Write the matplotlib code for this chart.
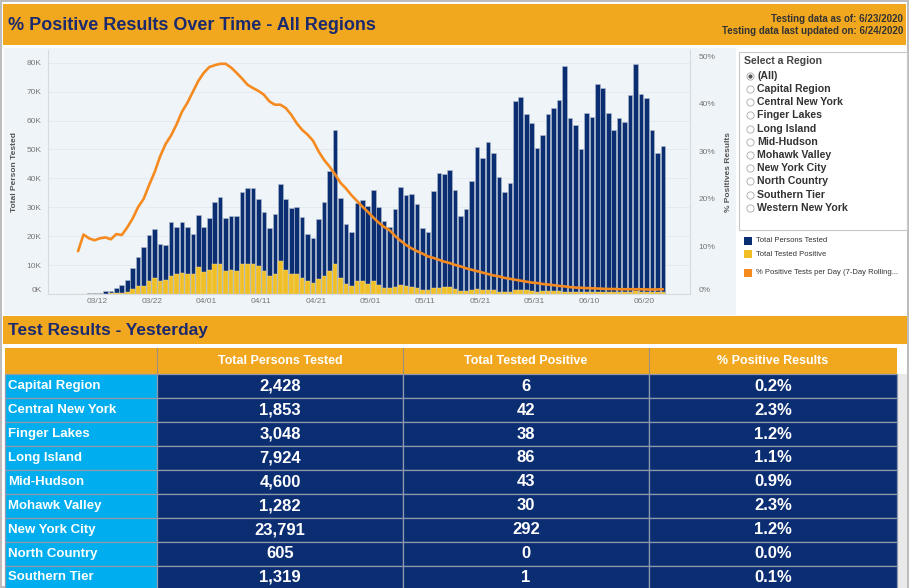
import pandas as pd, numpy as np
import matplotlib as mpl, matplotlib.pyplot as plt
from matplotlib.patches import Rectangle
from matplotlib.lines import Line2D
from matplotlib.ticker import FuncFormatter
import matplotlib.dates as mdates

W, H = 909, 588
ORANGE_BG = "#F1A81F"; NAVY_T = "#1B2A6E"; NAVY = "#0B2D72"; GOLD = "#F0BE25"
LINE = "#F58A1F"; CYAN = "#00AEEF"; PANEL = "#EFF4F8"; TICK = "#777777"; GRID = "#E2E9EF"
mpl.rcParams.update({"font.family": ["Liberation Sans", "DejaVu Sans"]})

# daily series, 2020-03-08 .. 2020-06-23 (thousands of persons / percent)
FIRST_DAY = "2020-03-08"
TOTAL_K = [0.05, 0.1, 0.2, 0.3, 0.5, 1.1, 1.1, 2.0, 3.1, 4.8,
           9.1, 12.8, 16.2, 20.5, 22.4, 17.4, 16.8, 24.8, 23.3, 24.8,
           23.1, 20.7, 27.4, 23.2, 26.3, 31.7, 33.7, 26.4, 26.9, 27.0,
           35.3, 36.6, 36.6, 32.8, 28.4, 22.7, 27.5, 38.2, 32.8, 29.6,
           30.0, 26.5, 20.6, 19.3, 26.0, 31.9, 42.6, 56.9, 33.1, 24.3,
           21.6, 31.6, 32.5, 30.4, 35.9, 30.0, 25.3, 23.3, 29.3, 37.1,
           34.1, 34.6, 31.1, 23.0, 21.6, 35.5, 42.0, 41.6, 42.8, 36.1,
           27.0, 29.4, 39.1, 50.9, 47.1, 52.7, 48.9, 40.5, 35.3, 38.3,
           66.6, 68.3, 62.2, 59.3, 50.6, 54.9, 62.3, 64.2, 67.2, 78.7,
           60.8, 58.4, 50.2, 62.7, 61.1, 72.7, 71.4, 62.7, 56.6, 60.8,
           59.5, 68.9, 79.5, 69.1, 67.7, 56.9, 48.9, 51.3]
POS_K = [0, 0, 0, 0.05, 0.1, 0.15, 0.2, 0.3, 0.5, 0.7,
         1.6, 2.8, 2.8, 4.6, 5.4, 4.5, 5.0, 6.2, 7.0, 7.4,
         6.9, 6.9, 9.2, 7.7, 8.3, 10.3, 10.5, 8.0, 8.3, 8.0,
         10.3, 10.3, 10.3, 9.8, 8.0, 6.3, 6.9, 11.4, 8.3, 7.0,
         6.8, 5.7, 4.5, 3.8, 5.3, 6.1, 8.0, 10.3, 5.7, 3.6,
         2.9, 4.4, 4.4, 3.6, 4.4, 3.1, 2.2, 2.1, 2.4, 3.2,
         2.8, 2.4, 2.0, 1.4, 1.3, 2.1, 2.1, 2.4, 2.3, 1.7,
         1.0, 1.1, 1.4, 1.8, 1.5, 1.5, 1.4, 0.7, 0.7, 0.7,
         1.5, 1.5, 1.3, 1.0, 0.8, 1.2, 1.0, 0.9, 0.9, 0.8,
         0.7, 0.7, 0.6, 0.8, 0.7, 0.8, 0.8, 0.7, 0.6, 0.7,
         0.6, 0.7, 0.9, 0.7, 0.6, 0.6, 0.6, 0.55]
PCT = [9.0, 12.5, 11.7, 11.3, 11.7, 11.9, 11.5, 12.6, 12.4, 14.0,
       15.9, 18.3, 20.0, 22.9, 25.6, 28.9, 31.5, 33.3, 35.6, 38.3,
       40.2, 42.5, 44.8, 46.5, 47.7, 48.1, 48.4, 48.4, 47.6, 46.5,
       45.3, 44.0, 43.3, 42.7, 41.9, 40.5, 39.8, 39.8, 39.1, 37.7,
       35.9, 34.5, 33.5, 32.2, 30.0, 28.2, 26.8, 25.2, 23.4, 22.2,
       20.8, 19.6, 18.4, 17.3, 16.1, 15.0, 14.1, 13.4, 12.2, 11.2,
       10.3, 9.6, 9.0, 8.5, 7.9, 7.6, 7.2, 6.8, 6.5, 6.1,
       5.8, 5.4, 5.1, 4.8, 4.5, 4.2, 3.9, 3.7, 3.4, 3.2,
       3.0, 2.8, 2.6, 2.4, 2.3, 2.1, 2.0, 1.85, 1.7, 1.6,
       1.45, 1.35, 1.3, 1.25, 1.2, 1.15, 1.1, 1.05, 1.05, 1.0,
       1.0, 1.0, 1.0, 1.0, 0.95, 0.95, 0.95, 1.0]
TICK_DATES = ["2020-03-12", "2020-03-22", "2020-04-01", "2020-04-11", "2020-04-21", "2020-05-01",
              "2020-05-11", "2020-05-21", "2020-05-31", "2020-06-10", "2020-06-20"]

REGIONS = ["(All)", "Capital Region", "Central New York", "Finger Lakes", "Long Island", "Mid-Hudson",
           "Mohawk Valley", "New York City", "North Country", "Southern Tier", "Western New York"]
TBL_REGIONS = ["Capital Region", "Central New York", "Finger Lakes", "Long Island", "Mid-Hudson",
               "Mohawk Valley", "New York City", "North Country", "Southern Tier"]
TBL_TESTED = [2428, 1853, 3048, 7924, 4600, 1282, 23791, 605, 1319]
TBL_POS = [6, 42, 38, 86, 43, 30, 292, 0, 1]
TBL_PCT = [0.2, 2.3, 1.2, 1.1, 0.9, 2.3, 1.2, 0.0, 0.1]
TBL_COLS = ["Total Persons Tested", "Total Tested Positive", "% Positive Results"]

fig = plt.figure(figsize=(W/100, H/100), dpi=100, facecolor="white")

def rect(x0, y0, x1, y1, color, z=1, **kw):
    fig.add_artist(Rectangle((x0/W, 1-y1/H), (x1-x0)/W, (y1-y0)/H, transform=fig.transFigure,
                             facecolor=color, zorder=z, **kw))
def txt(x, y, s, **kw):
    fig.text(x/W, 1-y/H, s, **kw)

# frame, banners, panels
rect(1, 1, 908, 587, "none", edgecolor="#BDBDBD", lw=1.5)
rect(3, 4, 906, 45, ORANGE_BG, lw=0)
txt(8, 25, "% Positive Results Over Time - All Regions", fontsize=13, weight="bold", color=NAVY_T, va="center")
txt(903, 19, "Testing data as of: 6/23/2020", fontsize=7, weight="bold", color="#333333", ha="right", va="center")
txt(903, 31, "Testing data last updated on: 6/24/2020", fontsize=7, weight="bold", color="#333333", ha="right", va="center")
rect(4, 48, 736, 315, PANEL, z=-5, lw=0)

# ---- chart ----
ax = fig.add_axes([48/W, 1-294/H, 642/W, 244/H])
ax.set_facecolor(PANEL)
dates = pd.date_range(FIRST_DAY, periods=len(TOTAL_K))
x = dates + pd.Timedelta(hours=12)
ax.bar(x, TOTAL_K, width=0.84, color=NAVY, edgecolor="#B4BFD0", linewidth=0.4, zorder=2)
ax.bar(x, POS_K, width=0.84, color=GOLD, edgecolor="#EADBAA", linewidth=0.3, zorder=3)
ax.set_ylim(0, 84.4); ax.set_yticks(range(0, 81, 10))
ax.yaxis.set_major_formatter(FuncFormatter(lambda v, _: f"{v:.0f}K"))
ax.set_xlim(pd.Timestamp("2020-03-03"), pd.Timestamp("2020-06-28 11:00"))
ax.set_xticks(pd.to_datetime(TICK_DATES))
ax.xaxis.set_major_formatter(mdates.DateFormatter("%m/%d"))
ax.tick_params(length=0, labelsize=6, colors=TICK)
ax.tick_params(axis="y", pad=4.5); ax.tick_params(axis="x", pad=3)
ax.grid(axis="y", color=GRID, lw=0.6, zorder=0); ax.set_axisbelow(True)
for s in ["top"]: ax.spines[s].set_visible(False)
for s in ["left", "bottom", "right"]: ax.spines[s].set_color("#D5DBE1"); ax.spines[s].set_linewidth(0.8)
ax.set_ylabel("Total Person Tested", fontsize=6, weight="bold", color="#555555", labelpad=6)
ax.get_yticklabels()[0].set_va("bottom")

ax2 = ax.twinx()
ax2.plot(x, PCT, color=LINE, lw=1.9, zorder=5, solid_capstyle="round")
ax2.set_ylim(0, 51.3); ax2.set_yticks(range(0, 51, 10))
ax2.yaxis.set_major_formatter(FuncFormatter(lambda v, _: f"{v:.0f}%"))
ax2.tick_params(length=0, labelsize=6, colors=TICK, pad=6)
for s in ["top", "left", "bottom", "right"]: ax2.spines[s].set_visible(False)
ax2.set_ylabel("% Positives Results", fontsize=6, weight="bold", color="#555555", labelpad=7)
ax2.get_yticklabels()[0].set_va("bottom")

# ---- region selector ----
rect(739, 52, 907, 230, "white", edgecolor="#C8C8C8", lw=0.8)
txt(744, 61, "Select a Region", fontsize=7.6, weight="bold", color="#444444", va="center")
for i, r in enumerate(REGIONS):
    yy = 75.7 + i*13.2
    fig.add_artist(Line2D([750/W], [1-yy/H], marker="o", ms=5.2, mfc="white", mec="#A8A8A8", mew=0.6,
                          transform=fig.transFigure, zorder=3))
    if i == 0:
        fig.add_artist(Line2D([750/W], [1-yy/H], marker="o", ms=2.0, mfc="#555555", mec="#555555",
                              transform=fig.transFigure, zorder=4))
    txt(757, yy, r, fontsize=7.6, weight="bold", color="#333333", va="center")

# legend
for yy, c, lab in [(240.7, NAVY, "Total Persons Tested"), (254.3, GOLD, "Total Tested Positive"),
                   (273, LINE, "% Positive Tests per Day (7-Day Rolling...")]:
    rect(743.5, yy-4, 751.5, yy+4, c, lw=0)
    txt(756.5, yy, lab, fontsize=5.5, color="#333333", va="center")

# ---- table ----
rect(3, 316, 907, 344, ORANGE_BG, lw=0)
txt(8, 331, "Test Results - Yesterday", fontsize=12.5, weight="bold", color=NAVY_T, va="center")
cols = [5, 157, 403, 649, 897]
rect(5, 347.5, 897, 373.5, ORANGE_BG, lw=0)
for cx in cols[1:-1]:
    fig.add_artist(Line2D([cx/W, cx/W], [1-347.5/H, 1-373.5/H], color="#9A8F80", lw=0.8,
                          transform=fig.transFigure, zorder=2))
for j, c in enumerate(TBL_COLS):
    txt((cols[j+1]+cols[j+2])/2, 360.5, c, fontsize=9, weight="bold", color="white", ha="center", va="center")
rect(897.5, 374, 907, 588, "#E9E9E9", lw=0)
for i, r in enumerate(TBL_REGIONS):
    y0 = 374.3 + i*23.9; y1 = y0 + 23.9
    rect(cols[0], y0, cols[1], y1, CYAN, edgecolor="#8F9AAE", lw=0.9)
    for j in range(3):
        rect(cols[j+1], y0, cols[j+2], y1, NAVY, edgecolor="#8F9AAE", lw=0.9)
    yc = (y0 + y1)/2
    txt(8, yc, r, fontsize=9.5, weight="bold", color="white", va="center")
    vals = [f"{TBL_TESTED[i]:,}", f"{TBL_POS[i]:,}", f"{TBL_PCT[i]:.1f}%"]
    for j, v in enumerate(vals):
        txt((cols[j+1]+cols[j+2])/2, yc, v, fontsize=12, weight="bold", color="white", ha="center", va="center")

fig.savefig("out.png", dpi=100, facecolor="white")
